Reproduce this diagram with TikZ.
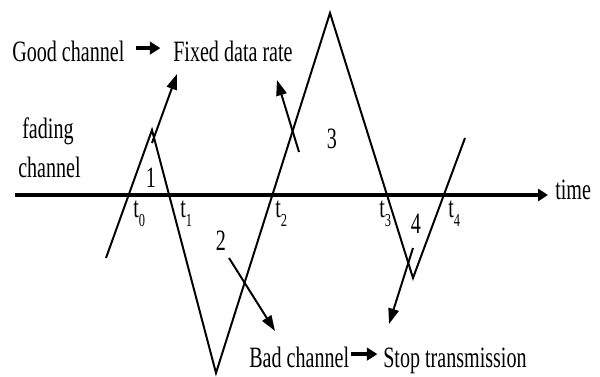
\documentclass[tikz,border=0pt]{standalone}
\usepackage{fontspec}
\setmainfont{Liberation Serif}[FakeStretch=0.68]
\usepackage{tikz}
\usetikzlibrary{arrows.meta}

\newcommand{\tlab}[1]{t\raisebox{-7pt}{\fontsize{13}{13}\selectfont #1}}

\begin{document}
\begin{tikzpicture}[
    x=0.025cm, y=-0.025cm,
    label/.style={inner sep=0pt, font=\fontsize{21}{25}\selectfont},
    wave/.style={line width=1.4pt, line join=miter},
    axis/.style={-{Triangle[length=7pt, width=8.5pt]}, line width=2.2pt},
    arrow/.style={-{Triangle[length=11pt, width=7.5pt]}, line width=1.4pt},
    textarrow/.style={-{Triangle[length=7.5pt, width=9pt]}, line width=2.5pt}
]
    \useasboundingbox (0,0) rectangle (600,376);

    % labels
    \node[label, anchor=base west] (good) at (12,61) {Good channel};
    \node[label, anchor=base west] (fixed) at (173,61) {Fixed data rate};
    \node[label, anchor=base west] (fading) at (22,138) {fading};
    \node[label, anchor=base west] (channel) at (18,177) {channel};
    \node[label, anchor=base west] (time) at (555,199) {time};
    \node[label, anchor=base west] (bad) at (249,367) {Bad channel};
    \node[label, anchor=base west] (stop) at (383,367) {Stop transmission};

    \node[label, anchor=base] (one) at (151,187) {1};
    \node[label, anchor=base] (two) at (221,250) {2};
    \node[label, anchor=base] (three) at (332,148) {3};
    \node[label, anchor=base] (four) at (416,233) {4};

    \node[label, anchor=base west] (t0) at (133,217) {\tlab{0}};
    \node[label, anchor=base west] (t1) at (180,217) {\tlab{1}};
    \node[label, anchor=base west] (t2) at (275,217) {\tlab{2}};
    \node[label, anchor=base west] (t3) at (379,217) {\tlab{3}};
    \node[label, anchor=base west] (t4) at (448,217) {\tlab{4}};

    % time axis
    \coordinate (axisL) at (15,195);
    \coordinate (axisR) at (548,195);
    \draw[axis] (axisL) -- (axisR);

    % fading channel
    \coordinate (w0) at (106,258);
    \coordinate (p1) at (152,130);
    \coordinate (v1) at (216,373);
    \coordinate (p2) at (330,13);
    \coordinate (v2) at (413,278);
    \coordinate (w5) at (465,138);
    \draw[wave] (w0) -- (p1) -- (v1) -- (p2) -- (v2) -- (w5);

    % arrows
    \coordinate (goodA) at (152,143);
    \coordinate (goodAtip) at (177,74);
    \coordinate (goodB) at (299,152);
    \coordinate (goodBtip) at (277,80);
    \coordinate (badA) at (229,258);
    \coordinate (badAtip) at (275,331);
    \coordinate (badB) at (413,248);
    \coordinate (badBtip) at (389,324);
    \draw[arrow] (goodA) -- (goodAtip);
    \draw[arrow] (goodB) -- (goodBtip);
    \draw[arrow] (badA) -- (badAtip);
    \draw[arrow] (badB) -- (badBtip);

    \draw[textarrow] ([xshift=8pt, yshift=2pt]good.east) -- ([xshift=-9pt, yshift=2pt]fixed.west);
    \draw[textarrow] ([xshift=1pt, yshift=2pt]bad.east) -- ([xshift=-4pt, yshift=2pt]bad.east -| stop.west);
\end{tikzpicture}
\end{document}
